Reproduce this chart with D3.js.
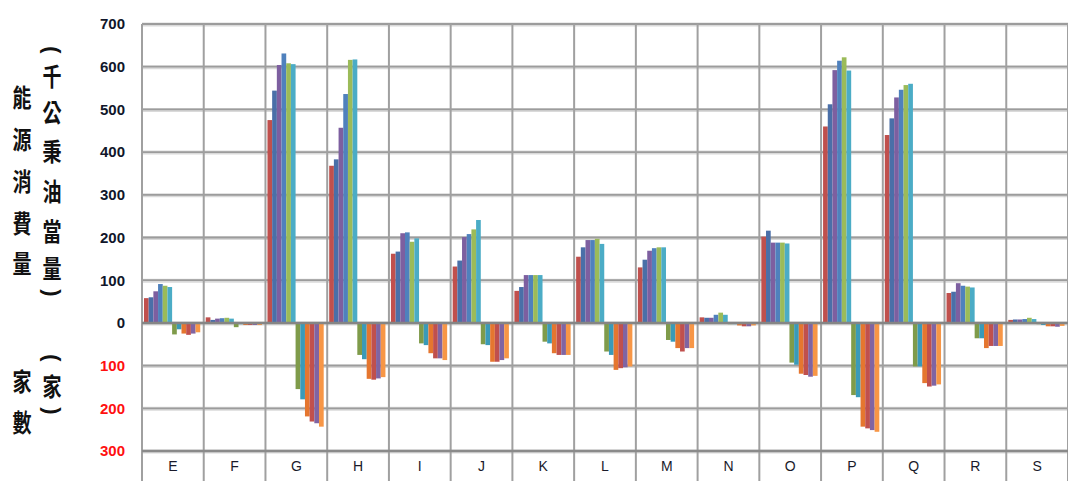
<!DOCTYPE html>
<html>
<head>
<meta charset="utf-8">
<script src="https://cdn.jsdelivr.net/npm/d3@7/dist/d3.min.js"></script>
<style>
  html, body { margin: 0; padding: 0; background: #ffffff; }
  svg { display: block; }
</style>
</head>
<body>
<svg id="chart" width="1068" height="481"></svg>
<script>
// Industry categories along the bottom
const categories = ["E", "F", "G", "H", "I", "J", "K", "L", "M", "N", "O", "P", "Q", "R", "S"];

// Energy consumption (千公秉油當量), six yearly series per category
const energy1 = [58, 13, 475, 368, 162, 132, 75, 155, 130, 13, 202, 460, 440, 70, 7];
const energy2 = [60, 7, 544, 383, 167, 146, 84, 177, 148, 12, 216, 512, 479, 73, 8];
const energy3 = [74, 10, 604, 457, 210, 201, 112, 194, 169, 12, 188, 592, 528, 93, 8];
const energy4 = [91, 11, 631, 536, 212, 208, 112, 194, 175, 19, 188, 614, 546, 87, 9];
const energy5 = [87, 12, 608, 616, 190, 219, 112, 197, 177, 24, 188, 622, 557, 85, 12];
const energy6 = [84, 10, 606, 617, 198, 241, 112, 185, 177, 19, 186, 591, 560, 83, 9];

// Number of establishments (家), six yearly series, drawn below zero
const firms1 = [27, 10, 155, 75, 48, 50, 44, 67, 40, 3, 93, 169, 102, 36, 3];
const firms2 = [15, 3, 179, 85, 52, 52, 48, 75, 44, 3, 98, 174, 102, 36, 5];
const firms3 = [25, 5, 219, 131, 71, 91, 71, 110, 59, 6, 119, 243, 141, 59, 8];
const firms4 = [28, 5, 231, 133, 83, 91, 75, 106, 67, 8, 122, 247, 149, 54, 8];
const firms5 = [25, 5, 235, 130, 83, 87, 75, 104, 59, 8, 126, 251, 147, 54, 9];
const firms6 = [22, 5, 243, 127, 87, 83, 75, 102, 59, 6, 124, 255, 144, 54, 7];

// Value axis tick labels
const yTicks = [-300, -200, -100, 0, 100, 200, 300, 400, 500, 600, 700];

const energySeries = [energy1, energy2, energy3, energy4, energy5, energy6];
const firmSeries = [firms1, firms2, firms3, firms4, firms5, firms6];
const energyColors = ["#c0504d", "#4a6fa8", "#7d5fa0", "#4f81bd", "#9bbb59", "#4bacc6"];
const firmColors = ["#7f9b4a", "#3a9ab8", "#e5762f", "#c0504d", "#8064a2", "#f79646"];

// Twelve bars per category: energy (up) then establishments (down)
const seriesKeys = d3.range(12);
const rows = [];
categories.forEach((c, i) => {
  energySeries.forEach((s, k) => rows.push({ cat: c, key: k, value: s[i], color: energyColors[k] }));
  firmSeries.forEach((s, k) => rows.push({ cat: c, key: 6 + k, value: -s[i], color: firmColors[k] }));
});

const svg = d3.select("#chart");
const plotLeft = 142, plotRight = 1068, plotTop = 24, plotBottom = 451, rowBottom = 481;

const x = d3.scaleBand().domain(categories).range([plotLeft, plotRight]).padding(0);
const bw = x.bandwidth();
const xs = d3.scaleBand().domain(seriesKeys).range([2, bw - 3.5]).padding(0);
const y = d3.scaleLinear().domain([-300, 700]).range([plotBottom, plotTop]);

// Horizontal gridlines
const grid = svg.append("g");
grid.selectAll("line.hs").data(yTicks).join("line").attr("class", "hs")
  .attr("x1", plotLeft).attr("x2", plotRight)
  .attr("y1", d => y(d) + 0.5).attr("y2", d => y(d) + 0.5)
  .attr("stroke", "#dadada").attr("stroke-width", 4);
grid.selectAll("line.h").data(yTicks).join("line").attr("class", "h")
  .attr("x1", plotLeft).attr("x2", plotRight)
  .attr("y1", d => y(d)).attr("y2", d => y(d))
  .attr("stroke", "#9c9c9c").attr("stroke-width", 1.8);

// Vertical separators, running through the category label row
const bounds = categories.map(c => x(c)).concat([plotRight]);
grid.selectAll("line.v").data(bounds).join("line").attr("class", "v")
  .attr("x1", d => d).attr("x2", d => d)
  .attr("y1", plotTop).attr("y2", rowBottom)
  .attr("stroke", "#a0a0a0").attr("stroke-width", 2);

// Bars
svg.append("g").selectAll("rect").data(rows).join("rect")
  .attr("x", d => x(d.cat) + xs(d.key))
  .attr("width", xs.bandwidth())
  .attr("y", d => y(Math.max(0, d.value)))
  .attr("height", d => Math.abs(y(d.value) - y(0)))
  .attr("fill", d => d.color);

// Zero line and bottom border
svg.append("line").attr("x1", plotLeft).attr("x2", plotRight)
  .attr("y1", y(0)).attr("y2", y(0))
  .attr("stroke", "#858585").attr("stroke-width", 2.5);
svg.append("line").attr("x1", plotLeft).attr("x2", plotRight)
  .attr("y1", y(-300)).attr("y2", y(-300))
  .attr("stroke", "#8a8a8a").attr("stroke-width", 2.5);

// Value axis labels (negative side in red, shown without sign)
const yAxis = d3.axisLeft(y).tickValues(yTicks).tickSize(0).tickPadding(17)
  .tickFormat(d => String(Math.abs(d)));
const ya = svg.append("g").attr("transform", `translate(${plotLeft},0)`).call(yAxis);
ya.select(".domain").remove();
ya.selectAll("text")
  .attr("font-family", "'Liberation Sans', Arial, sans-serif")
  .attr("font-size", 15).attr("font-weight", "bold")
  .attr("fill", d => d < 0 ? "#ff1010" : "#10162a");

// Category axis labels
const xAxis = d3.axisBottom(x).tickSize(0).tickPadding(10);
const xa = svg.append("g").attr("transform", `translate(0,${plotBottom})`).call(xAxis);
xa.select(".domain").remove();
xa.selectAll("text")
  .attr("font-family", "'Liberation Sans', Arial, sans-serif")
  .attr("font-size", 14).attr("fill", "#1a1a2a");

// Vertical axis titles: stacked characters, parentheses turned sideways
function column(items, cx) {
  const g = svg.append("g");
  items.forEach(([ch, cy]) => {
    const isParen = ch === "(" || ch === ")";
    g.append("text")
      .attr("transform", isParen
        ? `translate(${cx},${cy}) rotate(90)`
        : `translate(${cx},${cy}) scale(1,1.3)`)
      .attr("text-anchor", "middle").attr("dominant-baseline", "central")
      .attr("font-family", isParen
        ? "'Liberation Sans', Arial, sans-serif"
        : "'Noto Sans CJK TC', 'Noto Sans CJK SC', sans-serif")
      .attr("font-weight", "bold").attr("font-size", isParen ? 22 : 19)
      .attr("fill", "#111").text(ch);
  });
}
column([["能", 96], ["源", 138], ["消", 180], ["費", 222], ["量", 262]], 22);
column([["(", 50], ["千", 75], ["公", 111], ["秉", 150], ["油", 190], ["當", 230], ["量", 267], [")", 293]], 52);
column([["家", 380], ["數", 421]], 22);
column([["(", 358], ["家", 385], [")", 411]], 52);
</script>
</body>
</html>
